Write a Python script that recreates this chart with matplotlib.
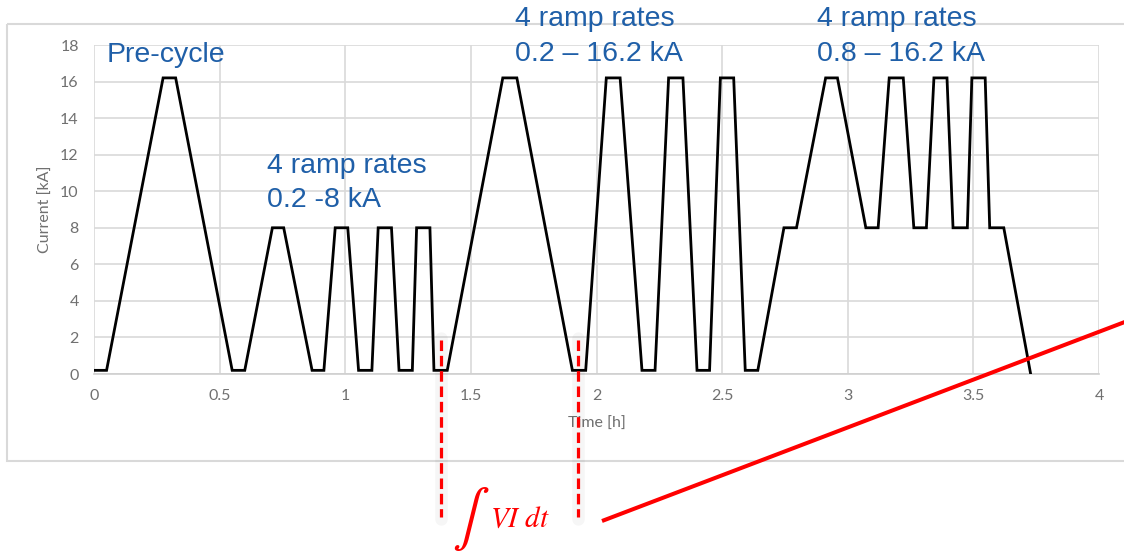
import matplotlib
matplotlib.use("Agg")
import matplotlib.pyplot as plt
from matplotlib.patches import Rectangle

# Current profile (time in hours, current in kA) – breakpoints of the cycle
time_h = [
    0.000, 0.050, 0.275, 0.325, 0.550, 0.600,                       # pre-cycle
    0.710, 0.755, 0.868, 0.915, 0.960, 1.010, 1.053, 1.106,         # 0.2-8 kA
    1.131, 1.184, 1.214, 1.267, 1.284, 1.337, 1.353, 1.406,
    1.627, 1.683, 1.904, 1.957, 2.039, 2.094, 2.181, 2.233,         # 0.2-16.2 kA
    2.287, 2.344, 2.400, 2.450, 2.493, 2.546, 2.592, 2.642,
    2.746, 2.796, 2.912, 2.959, 3.072, 3.121, 3.165, 3.221,         # 0.8-16.2 kA
    3.263, 3.313, 3.343, 3.395, 3.419, 3.476, 3.494, 3.547,
    3.565, 3.621, 3.728,
]
current_ka = [
    0.2, 0.2, 16.2, 16.2, 0.2, 0.2,
    8.0, 8.0, 0.2, 0.2, 8.0, 8.0, 0.2, 0.2,
    8.0, 8.0, 0.2, 0.2, 8.0, 8.0, 0.2, 0.2,
    16.2, 16.2, 0.2, 0.2, 16.2, 16.2, 0.2, 0.2,
    16.2, 16.2, 0.2, 0.2, 16.2, 16.2, 0.2, 0.2,
    8.0, 8.0, 16.2, 16.2, 8.0, 8.0, 16.2, 16.2,
    8.0, 8.0, 16.2, 16.2, 8.0, 8.0, 16.2, 16.2,
    8.0, 8.0, 0.0,
]

x_ticks = [0, 0.5, 1, 1.5, 2, 2.5, 3, 3.5, 4]
x_tick_labels = ["0", "0.5", "1", "1.5", "2", "2.5", "3", "3.5", "4"]
y_ticks = list(range(0, 19, 2))

segment_titles = [
    ("Pre-cycle", None),
    ("4 ramp rates", "0.2 -8 kA"),
    ("4 ramp rates", "0.2 \u2013 16.2 kA"),
    ("4 ramp rates", "0.8 \u2013 16.2 kA"),
]

W, H = 1124, 552
DPI = 100
fig = plt.figure(figsize=(W / DPI, H / DPI), dpi=DPI)
fig.patch.set_facecolor("white")

def px_box(x0, y0, x1, y1):
    return [x0 / W, 1 - y1 / H, (x1 - x0) / W, (y1 - y0) / H]

grid_c = "#d9d9d9"
tick_c = "#707070"

ax = fig.add_axes(px_box(94, 45, 1099, 374))
ax.plot(time_h, current_ka, color="black", lw=2.0, solid_joinstyle="miter", zorder=3)
ax.set_xlim(0, 4)
ax.set_ylim(0, 18)
ax.set_xticks(x_ticks)
ax.set_xticklabels(x_tick_labels)
ax.set_yticks(y_ticks)
ax.grid(True, color=grid_c, lw=1.2)
ax.set_axisbelow(True)
for side in ("top", "right", "left"):
    ax.spines[side].set_visible(False)
ax.spines["bottom"].set_color("#cfcfcf")
ax.spines["bottom"].set_linewidth(1.2)
ax.tick_params(length=0, pad=11, labelsize=11.5, labelcolor=tick_c)
for lab in ax.get_xticklabels() + ax.get_yticklabels():
    lab.set_fontfamily("Lato")
ax.set_xlabel("Time [h]", fontsize=11.5, color=tick_c, family="Lato")
ax.set_ylabel("Current [kA]", fontsize=11.5, color=tick_c, family="Lato")
ax.xaxis.set_label_coords(0.5, -0.13)
ax.yaxis.set_label_coords(-0.041, 0.5)

# Overlay in pixel coordinates for the frame and the annotations
ov = fig.add_axes([0, 0, 1, 1], zorder=5)
ov.set_xlim(0, W)
ov.set_ylim(H, 0)
ov.axis("off")
ov.patch.set_alpha(0)

ov.add_patch(Rectangle((7, 24), W + 20, 437, fill=False, ec=grid_c, lw=1.5, clip_on=True))

blue = "#1F5FA8"
title_pos = [(107, 62, None), (267, 173, 207), (515, 26, 61), (817, 26, 61)]
for (l1, l2), (x, y1, y2) in zip(segment_titles, title_pos):
    ov.text(x, y1, l1, color=blue, fontsize=20.5, family="Liberation Sans", va="baseline", ha="left")
    if l2:
        ov.text(x, y2, l2, color=blue, fontsize=20.5, family="Liberation Sans", va="baseline", ha="left")

# Integration window markers, with a faint soft shadow
for xd in (441, 578):
    ov.plot([xd, xd], [338, 519], color="black", lw=9, alpha=0.035, solid_capstyle="round")
    ov.plot([xd, xd], [340, 517], color="#ff0000", lw=2.3, dashes=(3.3, 1.5))

ov.text(471, 519, r"$\int$", color="#ff0000", fontsize=40, math_fontfamily="stix",
        ha="center", va="center")
ov.text(490, 527, r"$VI\ dt$", color="#ff0000", fontsize=21, math_fontfamily="stix",
        ha="left", va="baseline")

ov.plot([602, 1130], [521, 320], color="#ff0000", lw=2.9, solid_capstyle="butt")

fig.savefig("out.png", dpi=DPI)
